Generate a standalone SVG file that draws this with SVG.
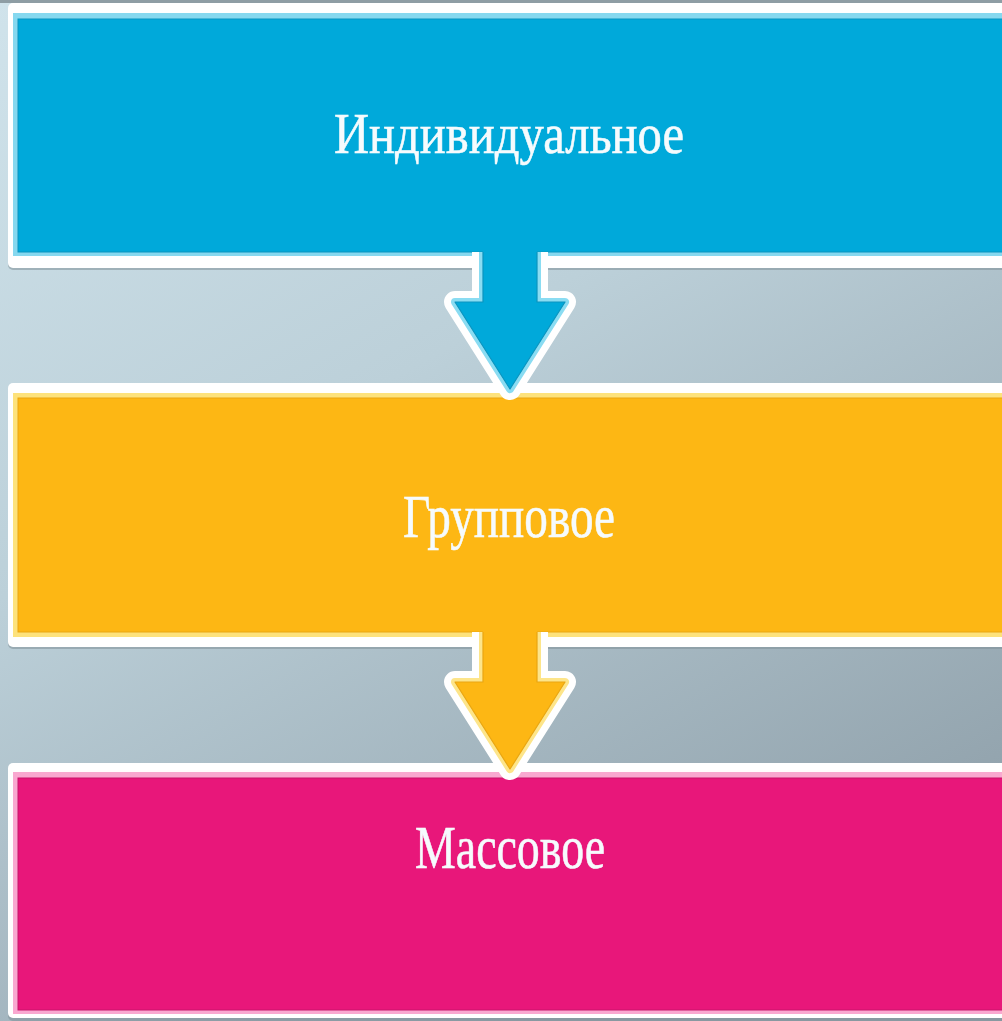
<svg xmlns="http://www.w3.org/2000/svg" width="1002" height="1021" viewBox="0 0 1002 1021">
  <defs>
    <linearGradient id="bg" x1="0" y1="0" x2="0.55" y2="1">
      <stop offset="0" stop-color="#d0e3eb"/>
      <stop offset="0.45" stop-color="#bcd0d9"/>
      <stop offset="1" stop-color="#93a4ae"/>
    </linearGradient>
    <style>
      .shadow { fill: #7f8f98; opacity: 0.55; }
      .white { fill: #ffffff; }
      .label { font-family: "Liberation Serif", "Times New Roman", serif; fill: #f6fbfd; stroke: #f6fbfd; stroke-width: 0.6; text-anchor: middle; }
      .owhite { fill: none; stroke: #ffffff; stroke-width: 22; stroke-linejoin: round; }
      .olight { fill: none; stroke-width: 8; stroke-linejoin: round; }
      .oedge { fill: none; stroke-width: 1.2; stroke-linejoin: round; }
    </style>
  </defs>
  <rect x="0" y="0" width="1002" height="1021" fill="url(#bg)"/>
  <rect x="0" y="0" width="1002" height="3" fill="#8e9da4"/>

  <g id="node-individual">
    <rect class="shadow" x="8" y="5" width="1010" height="265" rx="5"/>
    <rect class="white" x="8" y="3" width="1010" height="265" rx="5"/>
    <rect x="13" y="13" width="1000" height="243" fill="#86d8ef"/>
    <rect x="18" y="19" width="1000" height="233" fill="#00a9da" stroke="#0a94bf" stroke-width="1"/>
    <text class="label" x="509" y="153" font-size="58" textLength="350" lengthAdjust="spacingAndGlyphs">Индивидуальное</text>
  </g>

  <g id="node-group">
    <rect class="shadow" x="8" y="385" width="1010" height="264" rx="5"/>
    <rect class="white" x="8" y="383" width="1010" height="264" rx="5"/>
    <rect x="13" y="393" width="1000" height="244" fill="#fde27c"/>
    <rect x="18" y="398" width="1000" height="234" fill="#fdb714" stroke="#e9a612" stroke-width="1"/>
    <text class="label" x="509" y="537" font-size="61" textLength="212" lengthAdjust="spacingAndGlyphs">Групповое</text>
  </g>

  <g id="node-mass">
    <rect class="shadow" x="8" y="765" width="1010" height="256" rx="5"/>
    <rect class="white" x="8" y="763" width="1010" height="255" rx="5"/>
    <rect x="13" y="772" width="1000" height="242" fill="#f9a8d0"/>
    <rect x="18" y="778" width="1000" height="232" fill="#e8177a" stroke="#c8156a" stroke-width="1"/>
    <text class="label" x="510" y="868" font-size="62" textLength="190" lengthAdjust="spacingAndGlyphs">Массовое</text>
  </g>

  <g id="connectors">
    <g id="arrow-1">
      <path class="owhite" d="M483,252 L483,302 L455,302 L510,389 L565,302 L537,302 L537,252"/>
      <path class="olight" stroke="#8adcf2" d="M483,252 L483,302 L455,302 L510,389 L565,302 L537,302 L537,252"/>
      <path fill="#00a9da" d="M483,240 L483,302 L455,302 L510,389 L565,302 L537,302 L537,240 Z"/>
      <path class="oedge" stroke="#0a94bf" d="M483,252 L483,302 L455,302 L510,389 L565,302 L537,302 L537,252"/>
    </g>
    <g id="arrow-2">
      <path class="owhite" d="M483,632 L483,682 L455,682 L510,769 L565,682 L537,682 L537,632"/>
      <path class="olight" stroke="#fde58a" d="M483,632 L483,682 L455,682 L510,769 L565,682 L537,682 L537,632"/>
      <path fill="#fdb714" d="M483,620 L483,682 L455,682 L510,769 L565,682 L537,682 L537,620 Z"/>
      <path class="oedge" stroke="#e9a612" d="M483,632 L483,682 L455,682 L510,769 L565,682 L537,682 L537,632"/>
    </g>
  </g>
</svg>
